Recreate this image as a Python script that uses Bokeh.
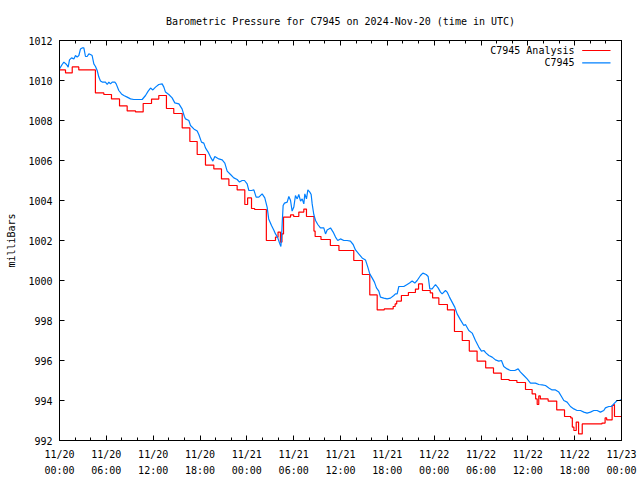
from bokeh.plotting import figure
from bokeh.models import FixedTicker, LinearAxis, Range1d, Label, BoxAnnotation, CustomLabelingPolicy
from bokeh.embed import file_html
from bokeh.resources import INLINE

TITLE = "Barometric Pressure for C7945 on 2024-Nov-20 (time in UTC)"
Y_LABEL = "milliBars"
SERIES_ANALYSIS = "C7945 Analysis"
SERIES_OBS = "C7945"

# hours since 2024-11-20 00:00 UTC
x_ticks = [0, 6, 12, 18, 24, 30, 36, 42, 48, 54, 60, 66, 72]
x_tick_labels = ["11/20\n00:00", "11/20\n06:00", "11/20\n12:00", "11/20\n18:00",
                 "11/21\n00:00", "11/21\n06:00", "11/21\n12:00", "11/21\n18:00",
                 "11/22\n00:00", "11/22\n06:00", "11/22\n12:00", "11/22\n18:00",
                 "11/23\n00:00"]
x_minor = list(range(0, 73, 2))
y_ticks = [992, 994, 996, 998, 1000, 1002, 1004, 1006, 1008, 1010, 1012]

# C7945 observations
obs_t = [0.0, 0.34, 0.56, 0.90, 1.11, 1.28, 1.54, 1.84, 2.05, 2.26, 2.48, 2.69, 2.90, 3.12,
         3.33, 3.54, 3.76, 3.97, 4.18, 4.40, 4.61, 4.83, 5.04, 5.25, 5.47, 5.89, 6.11, 6.32,
         6.53, 6.75, 7.09, 7.26, 7.60, 7.94, 8.24, 8.67, 9.10, 9.52, 10.59, 11.02, 11.36,
         11.66, 11.96, 12.30, 12.72, 13.15, 13.37, 13.58, 14.00, 14.43, 14.77, 15.30, 15.70,
         16.00, 16.14, 16.57, 16.78, 17.21, 17.64, 17.85, 18.19, 18.49, 18.70, 19.04, 19.35,
         19.65, 19.90, 20.20, 20.41, 20.84, 21.18, 21.48, 21.91, 22.33, 22.76, 23.06, 23.40,
         23.70, 24.04, 24.26, 24.60, 24.90, 25.19, 25.54, 25.96, 26.30, 26.60, 26.80, 27.16,
         27.45, 27.67, 27.93, 28.19, 28.36, 28.45, 28.55, 28.65, 28.82, 29.17, 29.38, 29.60,
         29.80, 30.02, 30.23, 30.45, 30.66, 30.88, 31.09, 31.30, 31.43, 31.64, 31.82, 32.07,
         32.24, 32.37, 32.58, 32.80, 33.09, 33.43, 33.86, 34.08, 34.29, 34.72, 35.06, 35.36,
         35.65, 35.99, 36.43, 36.85, 37.27, 37.62, 37.92, 38.34, 38.77, 39.20, 39.50, 39.75,
         40.05, 40.35, 40.61, 40.91, 41.12, 41.55, 41.97, 42.40, 42.83, 43.04, 43.26, 43.47,
         44.11, 44.54, 44.84, 45.18, 45.52, 45.82, 46.25, 46.55, 46.97, 47.23, 47.44, 47.74,
         48.17, 48.51, 48.81, 49.02, 49.45, 49.66, 49.96, 50.30, 50.64, 50.94, 51.37, 51.80,
         52.01, 52.44, 52.87, 53.29, 53.72, 54.06, 54.36, 54.66, 55.00, 55.43, 55.85, 56.28,
         56.62, 56.92, 57.35, 57.77, 58.33, 58.76, 59.06, 59.49, 59.91, 60.34, 60.98, 61.41,
         61.83, 62.26, 62.69, 63.11, 63.54, 63.97, 64.31, 64.61, 65.03, 65.46, 65.89, 66.31,
         66.74, 67.17, 67.59, 68.02, 68.45, 68.88, 69.30, 69.73, 69.94, 70.37, 70.71, 71.01,
         71.44, 71.74, 72.00]
obs_p = [1010.58, 1010.80, 1010.92, 1010.80, 1010.67, 1011.03, 1011.13, 1011.08, 1011.25,
         1011.17, 1011.25, 1011.58, 1011.63, 1011.63, 1011.20, 1011.20, 1011.33, 1011.30,
         1011.25, 1010.83, 1010.70, 1010.50, 1010.17, 1009.97, 1009.92, 1009.92, 1009.80,
         1009.92, 1009.83, 1009.92, 1009.92, 1009.83, 1009.50, 1009.33, 1009.25, 1009.17,
         1009.08, 1009.05, 1009.05, 1009.25, 1009.47, 1009.62, 1009.53, 1009.67, 1009.80,
         1009.83, 1009.67, 1009.42, 1009.30, 1009.13, 1008.88, 1008.83, 1008.58, 1008.20,
         1008.08, 1008.00, 1007.75, 1007.58, 1007.47, 1007.30, 1006.92, 1006.87, 1006.63,
         1006.42, 1006.17, 1005.97, 1006.20, 1006.13, 1006.08, 1006.03, 1005.87, 1005.47,
         1005.30, 1005.13, 1005.05, 1004.92, 1005.00, 1005.00, 1004.83, 1004.50, 1004.50,
         1004.53, 1004.17, 1004.17, 1004.33, 1004.13, 1003.67, 1003.08, 1002.75, 1002.53,
         1002.33, 1002.17, 1001.87, 1001.70, 1002.20, 1003.00, 1003.75, 1003.87, 1003.92,
         1004.20, 1004.00, 1003.47, 1003.67, 1004.25, 1004.08, 1004.30, 1003.97, 1004.08,
         1003.83, 1004.33, 1004.08, 1004.53, 1004.42, 1004.30, 1003.83, 1003.30, 1003.00,
         1002.80, 1002.63, 1002.63, 1002.33, 1002.53, 1002.63, 1002.42, 1002.17, 1002.00,
         1002.08, 1002.00, 1002.00, 1001.97, 1001.80, 1001.53, 1001.33, 1001.13, 1001.03,
         1000.67, 1000.33, 1000.13, 999.92, 999.63, 999.47, 999.17, 999.12, 999.08, 999.12,
         999.25, 999.33, 999.33, 999.70, 999.70, 999.80, 999.87, 999.97, 999.87, 1000.00,
         1000.25, 1000.37, 1000.30, 1000.20, 999.58, 999.58, 999.80, 999.63, 999.42, 999.33,
         999.50, 999.42, 999.17, 998.92, 998.67, 998.33, 998.03, 997.75, 997.80, 997.50,
         997.37, 997.00, 996.67, 996.47, 996.50, 996.37, 996.25, 996.17, 996.03, 995.97,
         996.00, 995.70, 995.58, 995.50, 995.50, 995.58, 995.42, 995.25, 995.08, 994.87,
         994.87, 994.80, 994.78, 994.75, 994.63, 994.53, 994.53, 994.42, 994.20, 994.00,
         993.92, 993.70, 993.58, 993.50, 993.50, 993.42, 993.37, 993.42, 993.50, 993.50,
         993.42, 993.50, 993.63, 993.70, 993.70, 993.83, 994.00, 994.00, 994.05]

# C7945 Analysis (value holds from each time until the next)
ana_t = [0.0, 0.77, 1.63, 2.47, 4.60, 5.68, 6.66, 7.69, 8.67, 9.74, 10.72, 11.79, 12.72,
         13.70, 14.64, 15.72, 16.70, 17.64, 18.70, 19.77, 20.75, 21.70, 22.76, 23.74, 24.10,
         24.60, 25.00, 26.50, 27.67, 28.00, 28.30, 28.50, 28.70, 29.60, 30.00, 30.66, 31.30,
         31.64, 32.60, 32.75, 33.50, 34.70, 35.80, 37.70, 38.80, 39.75, 40.70, 41.60, 42.75,
         43.00, 43.20, 43.80, 44.70, 45.60, 46.00, 46.50, 47.50, 47.80, 48.60, 49.70, 50.60,
         51.60, 52.50, 53.50, 54.60, 55.60, 56.60, 57.60, 58.60, 59.70, 60.55, 61.00, 61.20,
         61.40, 61.60, 62.60, 63.70, 64.70, 65.50, 65.70, 65.90, 66.20, 66.50, 66.97, 69.50,
         69.90, 70.10, 70.80, 71.00, 71.10, 72.00]
ana_p = [1010.53, 1010.38, 1010.68, 1010.53, 1009.38, 1009.30, 1009.08, 1008.73, 1008.48,
         1008.43, 1008.85, 1009.07, 1009.25, 1008.60, 1008.35, 1007.63, 1006.95, 1006.30,
         1005.77, 1005.58, 1005.08, 1004.75, 1004.53, 1003.80, 1004.13, 1003.60, 1003.55,
         1002.00, 1002.17, 1002.42, 1001.92, 1002.33, 1003.17, 1003.28, 1003.20, 1003.42,
         1003.57, 1003.20, 1002.47, 1002.20, 1002.05, 1001.75, 1001.50, 1001.00, 1000.30,
         999.28, 998.53, 998.58, 998.70, 998.83, 998.97, 999.25, 999.40, 999.57, 999.83,
         999.50, 999.38, 999.13, 998.80, 998.53, 997.45, 997.00, 996.47, 995.97, 995.63,
         995.37, 995.05, 995.00, 994.90, 994.55, 994.33, 994.08, 993.80, 994.23, 994.08,
         993.97, 993.53, 993.20, 993.13, 992.67, 992.50, 992.92, 992.33, 992.83, 992.87,
         993.13, 993.03, 993.75, 993.80, 993.20, 993.20]

RED = "#ff0000"
BLUE = "#0080ff"
FONT = "DejaVu Sans Mono"
FS = "10px"

p = figure(width=640, height=480, output_backend="svg", toolbar_location=None,
           x_range=Range1d(0, 72), y_range=Range1d(992, 1012),
           x_axis_type=None, y_axis_type=None, title=TITLE,
           min_border_left=59, min_border_right=19, min_border_top=40, min_border_bottom=40)
p.outline_line_color = "black"
p.background_fill_color = "white"
p.border_fill_color = "white"
p.title.align = "center"
p.title.text_font = FONT
p.title.text_font_size = FS
p.title.text_font_style = "normal"
p.title.text_color = "black"
p.title.standoff = 27

no_labels = CustomLabelingPolicy(code="""
    const all = [...indices]
    for (const i of all) indices.unset(i)
    return indices
""")

def make_axis(kind, show):
    ax = LinearAxis()
    if kind == "x":
        ax.ticker = FixedTicker(ticks=x_ticks, minor_ticks=x_minor)
        ax.major_label_overrides = {t: s for t, s in zip(x_ticks, x_tick_labels)}
        ax.minor_tick_in = 3
    else:
        ax.ticker = FixedTicker(ticks=y_ticks)
        ax.minor_tick_in = 0
    ax.minor_tick_out = 0
    ax.major_tick_in = 5
    ax.major_tick_out = 0
    ax.axis_line_color = "black"
    ax.major_tick_line_color = "black"
    ax.minor_tick_line_color = "black"
    ax.major_label_text_font = FONT
    ax.major_label_text_color = "black"
    ax.major_label_text_font_size = FS
    if not show:
        ax.major_label_policy = no_labels
        ax.major_label_text_font_size = "0px"
        ax.major_label_standoff = 0
    return ax

xb = make_axis("x", True)
xb.major_label_standoff = 8
xb.major_label_text_line_height = 1.5
p.add_layout(xb, "below")
p.add_layout(make_axis("x", False), "above")
yl = make_axis("y", True)
yl.major_label_standoff = 7
yl.axis_label = Y_LABEL
yl.axis_label_text_font = FONT
yl.axis_label_text_font_size = FS
yl.axis_label_text_font_style = "normal"
yl.axis_label_text_color = "black"
yl.axis_label_standoff = 8
p.add_layout(yl, "left")
p.add_layout(make_axis("y", False), "right")

p.step(ana_t, ana_p, mode="after", line_color=RED, line_width=1.2)
p.line(obs_t, obs_p, line_color=BLUE, line_width=1.2)

# legend (text right-aligned, sample line on its right), in screen units from frame bottom-left
for i, (name, col) in enumerate([(SERIES_ANALYSIS, RED), (SERIES_OBS, BLUE)]):
    yy = 390 - i * 12.3
    p.add_layout(Label(x=515, y=yy, x_units="screen", y_units="screen", text=name,
                       text_align="right", text_baseline="middle", text_font=FONT,
                       text_font_size=FS, text_color="black"))
    p.add_layout(BoxAnnotation(left=522.7, right=551, bottom=yy - 0.6, top=yy + 0.6,
                               left_units="screen", right_units="screen",
                               bottom_units="screen", top_units="screen",
                               fill_color=col, fill_alpha=1, line_alpha=0))

open("out.html", "w").write(file_html(p, INLINE))
